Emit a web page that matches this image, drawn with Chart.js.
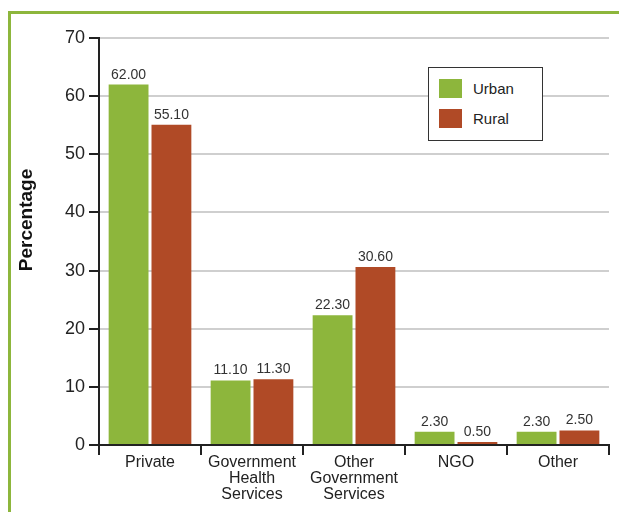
<!DOCTYPE html>
<html>
<head>
    <title>Source of Care</title>
    <style>
        body {
            margin: 0;
            font-family: "Liberation Sans", Arial, sans-serif;
            background: #fff;
        }
        .frame {
            position: absolute;
            left: 8px;
            top: 11px;
            width: 620px;
            height: 520px;
            border-left: 3px solid #8db63c;
            border-top: 3px solid #8db63c;
        }
        .wrap {
            position: relative;
            width: 619px;
            height: 512px;
            overflow: hidden;
        }
        canvas {
            position: absolute;
            left: 0;
            top: 0;
        }
        .legend {
            position: absolute;
            left: 428px;
            top: 67px;
            width: 113px;
            height: 72px;
            border: 1px solid #333;
            background: #fff;
            font-size: 15px;
            color: #222;
        }
        .legend div {
            position: absolute;
            left: 10px;
            height: 20px;
            line-height: 20px;
        }
        .legend span {
            display: inline-block;
            width: 23px;
            height: 19px;
            vertical-align: top;
            margin-right: 11px;
        }
    </style>
</head>
<body>
    <div class="wrap">
        <div class="frame"></div>
        <canvas id="careChart" width="619" height="512"></canvas>
        <div class="legend">
            <div style="top: 11px;"><span id="swUrban"></span><b id="lbUrban" style="font-weight: normal;"></b></div>
            <div style="top: 41px;"><span id="swRural"></span><b id="lbRural" style="font-weight: normal;"></b></div>
        </div>
    </div>

    <script src="https://cdn.jsdelivr.net/npm/chart.js"></script>
    <script>
        const categories = ['Private', ['Government', 'Health', 'Services'], ['Other', 'Government', 'Services'], 'NGO', 'Other'];
        const urban = [62.0, 11.1, 22.3, 2.3, 2.3];
        const rural = [55.1, 11.3, 30.6, 0.5, 2.5];
        const yTicks = [0, 10, 20, 30, 40, 50, 60, 70];
        const yTitle = 'Percentage';

        const green = '#8db63c';
        const rust = '#b04a26';
        const fontFamily = '"Liberation Sans", Arial, sans-serif';

        document.getElementById('swUrban').style.background = green;
        document.getElementById('swRural').style.background = rust;
        document.getElementById('lbUrban').textContent = 'Urban';
        document.getElementById('lbRural').textContent = 'Rural';

        // value labels above each bar
        const barValues = {
            id: 'barValues',
            afterDatasetsDraw(chart) {
                const ctx = chart.ctx;
                ctx.save();
                ctx.font = '14px ' + fontFamily;
                ctx.fillStyle = '#333';
                ctx.textAlign = 'center';
                ctx.textBaseline = 'alphabetic';
                chart.data.datasets.forEach((ds, i) => {
                    chart.getDatasetMeta(i).data.forEach((bar, j) => {
                        ctx.fillText(ds.data[j].toFixed(2), bar.x, bar.y - 6);
                    });
                });
                ctx.restore();
            }
        };

        // rotated y axis title, sits a bit above the middle of the axis
        const axisTitle = {
            id: 'axisTitle',
            afterDraw(chart) {
                const ctx = chart.ctx;
                ctx.save();
                ctx.translate(27, 220);
                ctx.rotate(-Math.PI / 2);
                ctx.font = 'bold 19px ' + fontFamily;
                ctx.fillStyle = '#111';
                ctx.textAlign = 'center';
                ctx.textBaseline = 'middle';
                ctx.fillText(yTitle, 0, 0);
                ctx.restore();
            }
        };

        new Chart(document.getElementById('careChart'), {
            type: 'bar',
            data: {
                labels: categories,
                datasets: [
                    { label: 'Urban', data: urban, backgroundColor: green },
                    { label: 'Rural', data: rural, backgroundColor: rust }
                ]
            },
            options: {
                responsive: false,
                animation: false,
                categoryPercentage: 0.84,
                barPercentage: 0.93,
                layout: { padding: { top: 38, right: 10, left: 0, bottom: 0 } },
                plugins: {
                    legend: { display: false },
                    tooltip: { enabled: false }
                },
                scales: {
                    x: {
                        afterFit: (s) => { s.height = 67; },
                        border: { color: '#222', width: 2 },
                        grid: { drawOnChartArea: false, tickLength: 10, tickColor: '#222', lineWidth: 2 },
                        ticks: {
                            color: '#222',
                            padding: 0,
                            maxRotation: 0,
                            font: { family: fontFamily, size: 16, lineHeight: 1.0 }
                        }
                    },
                    y: {
                        min: 0,
                        max: 70,
                        afterFit: (s) => { s.width = 99; },
                        afterBuildTicks: (s) => { s.ticks = yTicks.map(v => ({ value: v })); },
                        border: { color: '#222', width: 2 },
                        grid: { color: '#cfcfcf', lineWidth: 2, tickLength: 10, tickColor: '#222' },
                        ticks: {
                            color: '#222',
                            padding: 4,
                            font: { family: fontFamily, size: 18 }
                        }
                    }
                }
            },
            plugins: [barValues, axisTitle]
        });
    </script>
</body>
</html>
